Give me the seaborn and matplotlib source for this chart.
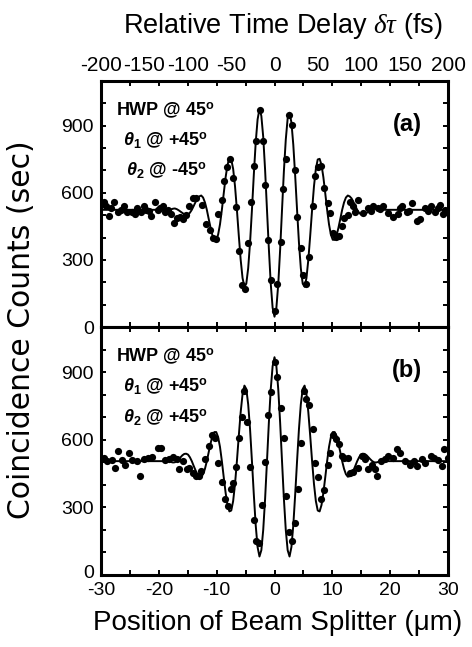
import numpy as np
import matplotlib
matplotlib.use("Agg")
import matplotlib.pyplot as plt
from matplotlib.ticker import MultipleLocator
import matplotlib.transforms as mtransforms
import seaborn as sns

# ---------------- data ----------------
# measured points, panel (a): HWP@45, theta1 @ +45, theta2 @ -45
a_x = [-29.9, -29.5, -29.2, -28.6, -28.2, -27.8, -27.0, -26.6, -26.1, -25.5, -24.7, -24.2,
       -23.8, -23.0, -22.6, -22.2, -21.7, -21.3, -20.7, -20.1, -19.8, -19.3, -18.9, -18.4,
       -17.9, -17.4, -16.9, -16.4, -15.8, -15.3, -14.7, -14.1,
       -13.5, -12.6, -11.8, -11.2, -10.6, -10.2, -9.7, -9.1, -8.7, -8.2, -7.7, -7.1, -6.6,
       -6.1, -5.65, -5.1, -4.6, -4.1, -3.6, -3.2, -2.56, -2.0, -1.6, -1.05, -0.52, 0.0, 0.47,
       1.05, 1.46, 1.92, 2.5, 3.1, 3.55, 3.96, 4.55, 5.0, 5.4, 6.0, 6.6, 7.05, 7.6, 8.0,
       8.5, 9.2, 9.6, 10.2, 10.7, 11.1, 11.7, 12.1, 12.7, 13.1,
       13.6, 13.9, 14.5, 15.3, 16.2, 16.7, 17.1, 17.9, 18.3, 18.8, 19.7, 20.5, 21.3, 21.7,
       22.0, 22.9, 23.3, 23.8, 24.6, 25.2, 26.1, 26.6, 27.0, 27.8, 28.2, 28.7, 29.1, 29.5, 30.0]
a_y = [548, 561, 539, 497, 530, 557, 516, 522, 539, 512, 512, 505,
       531, 516, 540, 524, 518, 497, 561, 524, 533, 539, 515, 524,
       505, 467, 486, 494, 482, 501, 539, 576,
       576, 546, 461, 434, 397, 393, 506, 566, 655, 715, 752, 667, 536,
       342, 188, 170, 375, 560, 722, 830, 972, 833, 636, 390, 210, 70, 191,
       379, 616, 751, 949, 904, 703, 491, 352, 233, 193, 315, 539, 673, 715, 718,
       621, 554, 509, 422, 401, 407, 452, 487, 501, 557,
       539, 516, 569, 509, 531, 520, 539, 531, 527, 539, 509, 494, 506, 530,
       539, 516, 520, 554, 472, 482, 531, 518, 539, 516, 530, 546, 505, 524, 516]

# measured points, panel (b): HWP@45, theta1 @ +45, theta2 @ +45
b_x = [-29.5, -29.0, -28.1, -27.6, -27.0, -26.3, -25.8, -25.2, -24.6, -23.7, -23.3, -22.5,
       -21.8, -21.1, -20.2, -19.6, -19.0, -18.2, -17.6, -16.9, -16.5, -15.8, -15.1, -14.7,
       -14.1, -13.5,
       -13.0, -12.7, -12.1, -11.4, -10.8, -10.3, -9.7, -9.1, -8.6, -8.0, -7.5, -7.1, -6.6,
       -6.1, -5.65, -5.2, -4.8, -4.2, -3.6, -3.2, -2.7, -2.15, -1.6, -1.1, -0.58, 0.0, 0.47,
       1.05, 1.57, 2.04, 2.5, 2.97, 3.5, 4.0, 4.55, 5.1, 5.5, 6.0, 6.6, 7.05, 7.6, 8.0,
       8.6, 9.2, 9.6, 10.2, 10.7, 11.1, 11.7, 12.1, 12.7, 13.1,
       13.6, 14.5, 15.1, 15.7, 16.2, 16.9, 17.4, 17.8, 18.5, 19.1, 19.7, 20.5, 21.1, 21.7,
       22.6, 23.5, 24.1, 24.7, 25.5, 26.1, 27.0, 27.6, 28.2, 28.9, 29.3, 30.0]
b_y = [520, 505, 508, 475, 550, 510, 490, 539, 508, 505, 438, 513,
       520, 525, 565, 565, 510, 513, 525, 513, 468, 505, 468, 475,
       453, 438,
       438, 461, 513, 572, 620, 609, 495, 412, 337, 308, 382, 409, 480,
       609, 703, 817, 679, 480, 245, 153, 141, 312, 502, 709, 813, 944, 877,
       739, 609, 352, 189, 149, 230, 382, 584, 817, 780, 753, 649, 498, 435, 337,
       379, 490, 539, 620, 605, 579, 527, 520, 520, 453,
       455, 475, 530, 513, 468, 490, 468, 438, 505, 513, 527, 520, 560, 542,
       505, 490, 505, 483, 513, 498, 527, 520, 510, 483, 557, 520]

# fitted curves: sampled on a regular 0.325 um grid from -18.2 to 18.2 um, plus the two ends
curve_step = 0.325
curve_x = np.concatenate([[-30.0], np.arange(-56, 57) * curve_step, [30.0]])

fit_a = [524,
         524, 526, 529, 530, 527, 522, 516, 510, 504, 501, 503, 511, 524, 541, 559, 575,
         584, 588, 579, 557, 524, 483, 443, 409, 392, 390, 413, 459, 524, 598, 670, 725,
         755, 749, 707, 629, 524, 409, 301, 219, 180, 194, 263, 378, 524, 682, 825, 928,
         975, 944, 850, 702, 524, 350, 194, 86,
         46,
         86, 192, 346, 524, 697, 838, 933, 958, 915, 815, 677, 524, 378, 263, 194, 180,
         219, 301, 409, 524, 629, 707, 749, 752, 725, 670, 598, 524, 459, 413, 390, 390,
         409, 443, 483, 524, 557, 579, 588, 584, 575, 559, 541, 524, 511, 503, 501, 504,
         510, 516, 522, 527, 530, 529, 526, 524,
         524]

fit_b = [505,
         505, 501, 499, 500, 505, 513, 522, 531, 537, 538, 534, 522, 505, 484, 464, 447,
         438, 436, 447, 471, 505, 545, 584, 617, 634, 634, 612, 568, 505, 433, 364, 310,
         282, 286, 328, 404, 505, 617, 722, 802, 840, 825, 757, 646, 505, 356, 221, 124,
         82, 110, 200, 338, 505, 676, 824, 926,
         966,
         926, 824, 676, 505, 338, 200, 110, 82, 124, 221, 356, 505, 646, 757, 825, 840,
         802, 722, 617, 505, 404, 328, 286, 282, 310, 364, 433, 505, 568, 612, 634, 634,
         617, 584, 545, 505, 471, 447, 436, 438, 447, 464, 484, 505, 522, 534, 538, 537,
         531, 522, 513, 505, 500, 499, 501, 505,
         505]

x_ticks = [-30, -20, -10, 0, 10, 20, 30]
y_ticks = [0, 300, 600, 900]
top_ticks = [-200, -150, -100, -50, 0, 50, 100, 150, 200]

panel_a_text = ["HWP @ 45$^\\mathbf{o}$",
                "$\\mathbfit{\\theta}_\\mathbf{1}$ @ +45$^\\mathbf{o}$",
                "$\\mathbfit{\\theta}_\\mathbf{2}$ @ -45$^\\mathbf{o}$"]
panel_b_text = ["HWP @ 45$^\\mathbf{o}$",
                "$\\mathbfit{\\theta}_\\mathbf{1}$ @ +45$^\\mathbf{o}$",
                "$\\mathbfit{\\theta}_\\mathbf{2}$ @ +45$^\\mathbf{o}$"]

# ---------------- style ----------------
sns.set_style("ticks")
plt.rcParams["font.family"] = ["Liberation Sans", "DejaVu Sans"]
plt.rcParams["axes.unicode_minus"] = False
plt.rcParams["mathtext.fontset"] = "custom"
plt.rcParams["mathtext.rm"] = "Liberation Sans"
plt.rcParams["mathtext.it"] = "Liberation Serif:italic"
plt.rcParams["mathtext.bf"] = "Liberation Sans:bold"
plt.rcParams["mathtext.bfit"] = "Liberation Sans:italic:bold"
for key in ["text.color", "axes.labelcolor", "xtick.color", "ytick.color", "axes.edgecolor"]:
    plt.rcParams[key] = "black"

W, H = 472, 647
fig = plt.figure(figsize=(W / 100, H / 100), dpi=100)
ax_a = fig.add_axes([101 / W, 1 - 327 / H, 347 / W, 246 / H])
ax_b = fig.add_axes([101 / W, 1 - 575 / H, 347 / W, 248 / H])


def draw(ax, px, py, fit, lines, tag, show_xlabels):
    sns.lineplot(x=curve_x, y=fit, ax=ax, color="black", linewidth=1.4,
                 estimator=None, sort=False, zorder=2)
    sns.scatterplot(x=px, y=py, ax=ax, color="black", s=27, linewidth=0, zorder=3)
    ax.set_xlim(-30, 30)
    ax.set_ylim(0, 1100)
    ax.set_xticks(x_ticks)
    ax.xaxis.set_minor_locator(MultipleLocator(5))
    ax.set_yticks(y_ticks)
    ax.yaxis.set_minor_locator(MultipleLocator(100))
    ax.tick_params(which="both", direction="in", top=True, right=True,
                   length=3.5, width=1.4, labelsize=14, colors="black")
    ax.tick_params(axis="y", pad=5)
    ax.tick_params(axis="x", pad=5, labelbottom=show_xlabels)
    for s in ax.spines.values():
        s.set_linewidth(2.2)
        s.set_color("black")
    ax.set_xlabel("")
    ax.set_ylabel("")
    ys = [0.882, 0.760, 0.638]
    for t, yy in zip(lines, ys):
        ax.text(0.187, yy, t, transform=ax.transAxes, ha="center", va="center",
                fontsize=13, fontweight="bold")
    ax.text(0.882, 0.825, tag, transform=ax.transAxes, ha="center", va="center",
            fontsize=17, fontweight="bold")


draw(ax_a, a_x, a_y, fit_a, panel_a_text, "(a)", False)
draw(ax_b, b_x, b_y, fit_b, panel_b_text, "(b)", True)

# lift the "0" of the lower panel slightly so it clears the "-30" below it
fig.canvas.draw()
for lbl in ax_b.get_yticklabels():
    if lbl.get_text() == "0":
        lbl.set_transform(lbl.get_transform() +
                          mtransforms.ScaledTranslation(0, 3 / 100, fig.dpi_scale_trans))

sec = ax_a.secondary_xaxis("top", functions=(lambda u: u * 20.0 / 3.0,
                                             lambda t: t * 3.0 / 20.0))
sec.set_xticks(top_ticks)
sec.tick_params(length=0, labelsize=15, pad=4, colors="black")
sec.spines["top"].set_visible(False)

fig.text(283 / W, 1 - 33 / H, "Relative Time Delay $\\delta\\tau$ (fs)",
         ha="center", va="baseline", fontsize=19.5)
fig.text(278 / W, 1 - 630 / H, "Position of Beam Splitter (\u03bcm)",
         ha="center", va="baseline", fontsize=20)
fig.text(22 / W, 1 - 330 / H, "Coincidence Counts (sec)", rotation=90,
         ha="center", va="center", fontsize=21.5, family=["DejaVu Sans"])

fig.savefig("out.png", dpi=100)
